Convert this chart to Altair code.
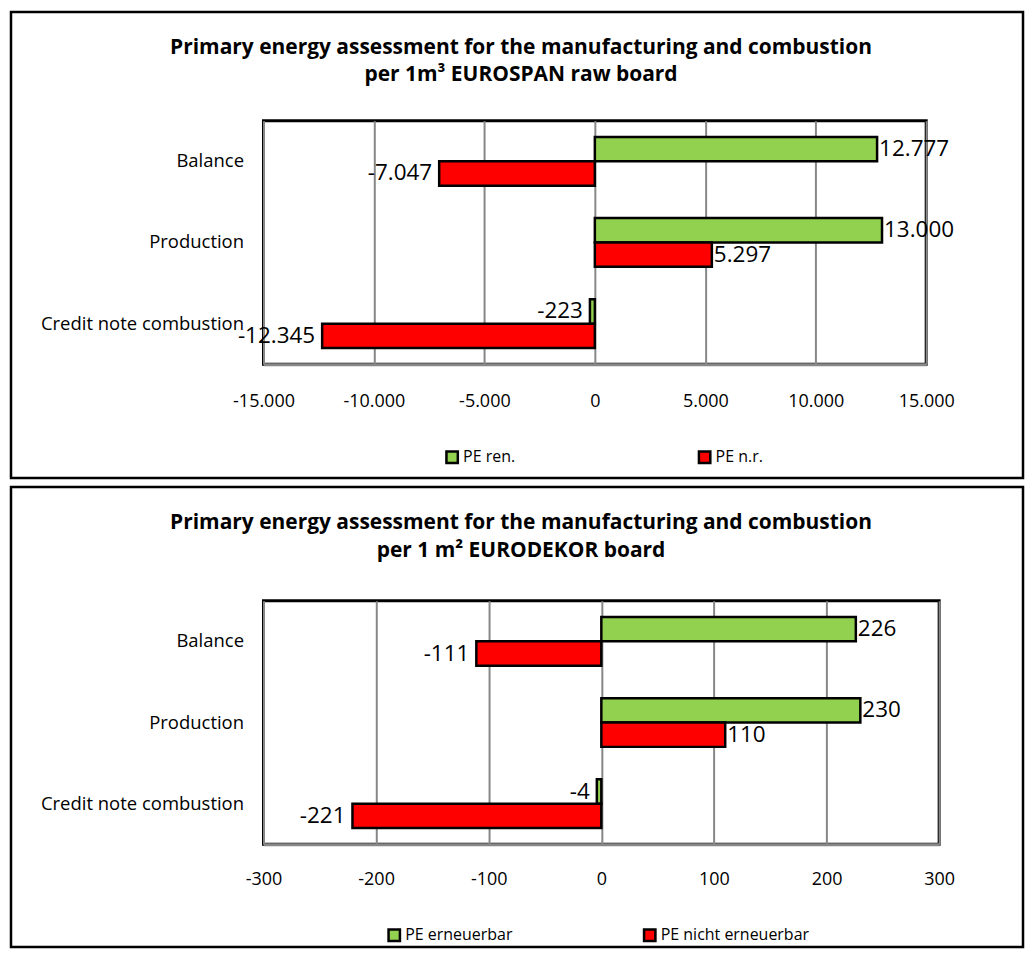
import altair as alt
import pandas as pd

categories = ["Balance", "Production", "Credit note combustion"]

top_series = ["PE ren.", "PE  n.r."]
top_ren = [12777, 13000, -223]
top_nr = [-7047, 5297, -12345]
top_ticks = [-15000, -10000, -5000, 0, 5000, 10000, 15000]
top_title = ["Primary energy assessment for the manufacturing and combustion",
             "per 1m\u00b3 EUROSPAN  raw board"]

bot_series = ["PE erneuerbar", "PE  nicht erneuerbar"]
bot_ren = [226, 230, -4]
bot_nr = [-111, 110, -221]
bot_ticks = [-300, -200, -100, 0, 100, 200, 300]
bot_title = ["Primary energy assessment for the manufacturing and combustion",
             "per  1 m\u00b2 EURODEKOR board"]

GREEN = "#92D050"
RED = "#FF0000"
GRID = "#878787"
FONT = "Open Sans"


def de_fmt(v):
    s = f"{abs(v):,}".replace(",", ".")
    return ("-" if v < 0 else "") + s


def make_df(series, ren, nr):
    rows = []
    for c, a, b in zip(categories, ren, nr):
        rows.append({"cat": c, "series": series[0], "value": a, "label": de_fmt(a)})
        rows.append({"cat": c, "series": series[1], "value": b, "label": de_fmt(b)})
    return pd.DataFrame(rows)


LABEL_EXPR = "(datum.value < 0 ? '-' : '') + replace(format(abs(datum.value), ','), ',', '.')"


def panel(df, series, ticks, width, title_lines, frame, title_pos, title_lh, legend_x,
          legend_y, legend_pad, tick_pad):
    domain = [ticks[0], ticks[-1]]
    xenc = alt.X("value:Q",
                 scale=alt.Scale(domain=domain, nice=False, zero=False),
                 axis=alt.Axis(values=ticks, title=None, grid=True, gridColor=GRID,
                               gridWidth=2, domainColor=GRID, domainWidth=3,
                               ticks=False, labelPadding=tick_pad, labelFontSize=18,
                               labelFlush=False, labelOverlap=False,
                               labelExpr=LABEL_EXPR))
    yenc = alt.Y("cat:N", sort=categories,
                 scale=alt.Scale(paddingInner=0.4, paddingOuter=0.2),
                 axis=alt.Axis(title=None, domain=False, ticks=False, grid=False,
                               labelPadding=20, labelFontSize=18.5, labelLimit=300))
    yoff = alt.YOffset("series:N", sort=series,
                       scale=alt.Scale(domain=series, paddingInner=0, paddingOuter=0))
    color = alt.Color("series:N", sort=series,
                      scale=alt.Scale(domain=series, range=[GREEN, RED]),
                      legend=alt.Legend(title=None, orient="none", direction="horizontal",
                                        columns=2, legendX=legend_x, legendY=legend_y,
                                        symbolType="square", symbolSize=130,
                                        symbolStrokeColor="black", symbolStrokeWidth=2.5,
                                        labelFontSize=16, labelFont=FONT,
                                        labelOffset=3, columnPadding=legend_pad))
    base = alt.Chart(df)
    bars = base.mark_bar(stroke="black", strokeWidth=2.5).encode(
        x=xenc, y=yenc, yOffset=yoff, color=color)
    pos = base.transform_filter("datum.value >= 0").mark_text(
        align="left", baseline="middle", dx=2, fontSize=22.5, font=FONT, color="black"
    ).encode(x="value:Q", y=alt.Y("cat:N", sort=categories), yOffset=yoff, text="label:N")
    neg = base.transform_filter("datum.value < 0").mark_text(
        align="right", baseline="middle", dx=-7, fontSize=22.5, font=FONT, color="black"
    ).encode(x="value:Q", y=alt.Y("cat:N", sort=categories), yOffset=yoff, text="label:N")
    x0, x1, y0, y1 = frame
    box = alt.Chart(pd.DataFrame({"k": [0]})).mark_rect(
        fill="white", fillOpacity=0, stroke="black", strokeWidth=2.5
    ).encode(x=alt.value(x0), x2=alt.value(x1), y=alt.value(y0), y2=alt.value(y1))
    tx, ty = title_pos
    title = alt.Chart(pd.DataFrame({"k": [0]})).mark_text(
        align="center", baseline="middle", fontSize=21, fontWeight="bold", font=FONT,
        color="black", lineHeight=title_lh
    ).encode(x=alt.value(tx), y=alt.value(ty), text=alt.value(title_lines))
    return alt.layer(box, title, bars, pos, neg).properties(width=width, height=244)


top = panel(make_df(top_series, top_ren, top_nr), top_series, top_ticks, 664,
            top_title, (-253, 761, -109, 358), (258, -73), 27, 181, 329, 178, 28)
bottom = panel(make_df(bot_series, bot_ren, bot_nr), bot_series, bot_ticks, 677,
               bot_title, (-253, 761, -114, 347), (258, -78), 28, 123, 327, 126, 26)

chart = alt.vconcat(top, bottom, spacing=3).resolve_scale(
    color="independent", yOffset="independent", x="independent", y="independent"
).resolve_legend(color="independent").properties(
    padding={"left": 0, "top": 0, "right": 0, "bottom": 0}
).configure_view(stroke="black", strokeWidth=3).configure_axis(
    labelFont=FONT, labelColor="black"
)

chart.save("out.html", embed_options={"renderer": "svg", "actions": False})
